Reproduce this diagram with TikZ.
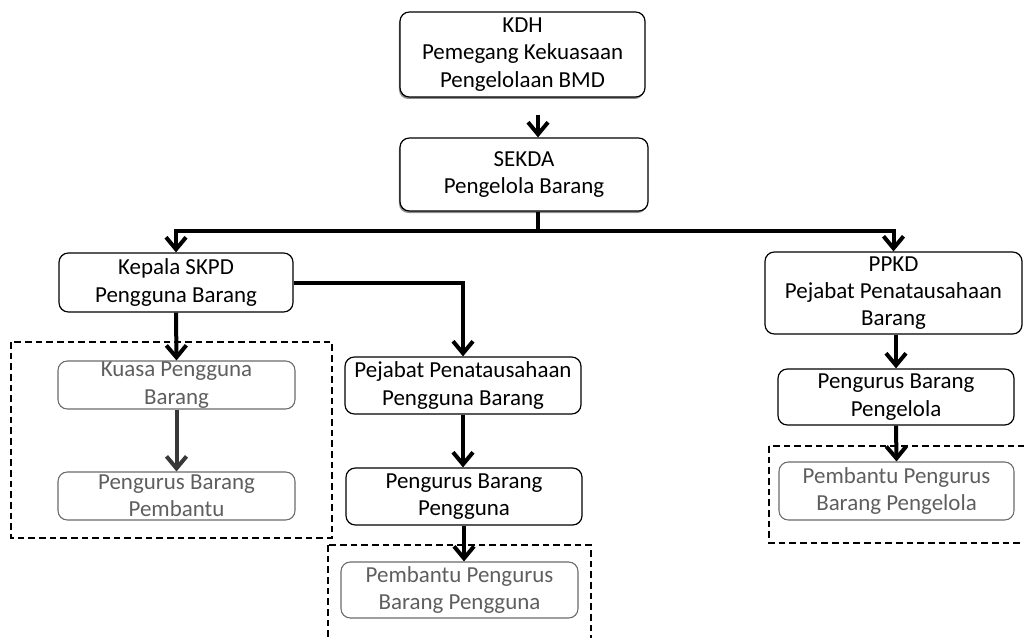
\documentclass[tikz,border=0pt]{standalone}
\usepackage{fontspec}
\setmainfont{Carlito}
\usetikzlibrary{arrows.meta,shadows,calc}
\definecolor{gtext}{HTML}{5E5E5E}
\definecolor{gline}{HTML}{6A6A6A}
\begin{document}
\begin{tikzpicture}[x=0.75pt,y=-0.75pt,
  box/.style={draw,rounded corners=7pt,line width=0.9pt,align=center,inner sep=0pt,
    font=\fontsize{17.2}{20.5}\selectfont},
  shbox/.style={box,fill=white,drop shadow={shadow xshift=-0.8pt,shadow yshift=-1.5pt,fill=black,opacity=0.45}},
  gbox/.style={box,draw=gline,text=gtext,line width=0.8pt},
  conn/.style={line width=3pt,-{Straight Barb[length=9pt,width=15pt]}},
  gconn/.style={conn,draw=black!78},
  dbox/.style={draw,line width=0.9pt,dash pattern=on 5pt off 3pt}]
\useasboundingbox (0,0) rectangle (1024,638);

% dashed groups
\draw[dbox] (11,342) rectangle (332,538);
\draw[dbox] (328,545) rectangle (591,670);
\draw[dbox] (769,446) rectangle (1040,543);

% nodes
\node[shbox,minimum width=245*0.75pt,minimum height=85*0.75pt] (kdh) at (522.5,54.5)
  {KDH\\Pemegang Kekuasaan\\Pengelolaan BMD};
\node[shbox,minimum width=248*0.75pt,minimum height=73*0.75pt] (sekda) at (524,174.5)
  {SEKDA\\Pengelola Barang};
\node[box,minimum width=234*0.75pt,minimum height=59*0.75pt] (kepala) at (176,282.5)
  {Kepala SKPD\\Pengguna Barang};
\node[gbox,minimum width=237*0.75pt,minimum height=48*0.75pt] (kuasa) at (176.5,385)
  {Kuasa Pengguna\\Barang};
\node[gbox,minimum width=237*0.75pt,minimum height=48*0.75pt] (pbp) at (176.5,496)
  {Pengurus Barang\\Pembantu};
\node[box,minimum width=236*0.75pt,minimum height=57*0.75pt] (pejabat) at (463,385.5)
  {Pejabat Penatausahaan\\Pengguna Barang};
\node[box,minimum width=236*0.75pt,minimum height=57*0.75pt] (pbpg) at (464,496.5)
  {Pengurus Barang\\Pengguna};
\node[gbox,minimum width=237*0.75pt,minimum height=56*0.75pt] (ppbpg) at (459.5,590)
  {Pembantu Pengurus\\Barang Pengguna};
\node[box,minimum width=257*0.75pt,minimum height=82*0.75pt] (ppkd) at (893.5,293)
  {PPKD\\Pejabat Penatausahaan\\Barang};
\node[box,minimum width=236*0.75pt,minimum height=56*0.75pt] (pbpl) at (896,397)
  {Pengurus Barang\\Pengelola};
\node[gbox,minimum width=235*0.75pt,minimum height=58*0.75pt] (ppbpl) at (896.5,491)
  {Pembantu Pengurus\\Barang Pengelola};

% connectors
\coordinate (a1) at (538,115);
\draw[conn] (a1) -- (a1 |- sekda.north);
\coordinate (j) at (538,231);
\draw[line width=3pt] (j |- sekda.south) -- (j);
\draw[conn] (j) -| (kepala.north);
\draw[conn] (j) -| (ppkd.north);
\draw[conn] (kepala.east) -| (pejabat.north);
\draw[conn] (kepala.south) -- (kuasa.north);
\draw[gconn] (kuasa.south) -- (pbp.north);
\draw[conn] (pejabat.south) -- (pejabat.south |- pbpg.north);
\draw[conn] (pbpg.south) -- (pbpg.south |- ppbpg.north);
\draw[conn] (pbpl.north |- ppkd.south) -- (pbpl.north);
\draw[conn] (pbpl.south) -- (ppbpl.north);
\end{tikzpicture}
\end{document}
